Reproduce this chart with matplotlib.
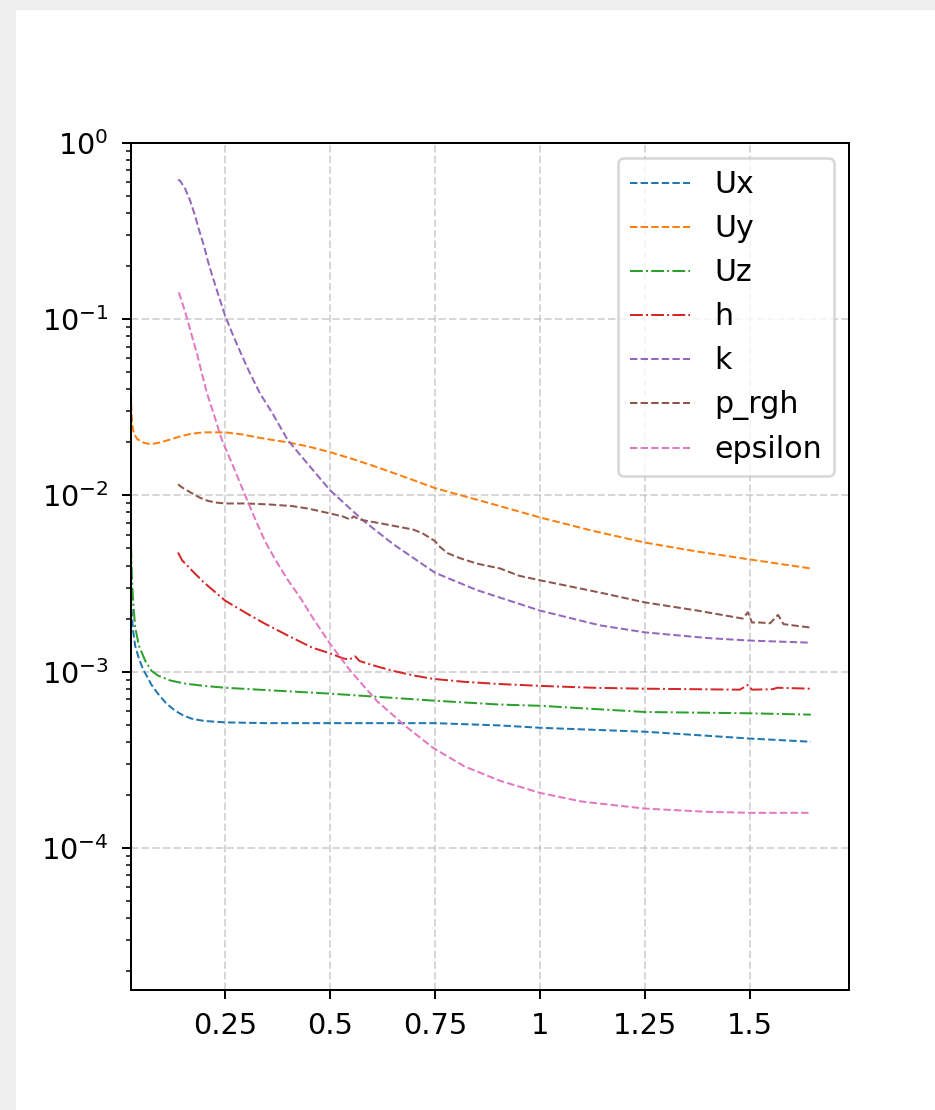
import matplotlib
matplotlib.use("Agg")
import matplotlib.pyplot as plt
from matplotlib.patches import Rectangle
from matplotlib.ticker import FixedLocator, FormatStrFormatter

# residuals (x = time, y = initial residual)
ux_t = [0.026, 0.028, 0.031, 0.036, 0.045, 0.055, 0.065, 0.075, 0.09, 0.11, 0.131, 0.15, 0.171, 0.2, 0.25, 0.35,
        0.5, 0.75, 0.905, 1.0, 1.25, 1.5, 1.645]
ux = [2.6e-3, 2.1e-3, 1.7e-3, 1.4e-3, 1.18e-3, 1.03e-3, 9.3e-4, 8.4e-4, 7.5e-4, 6.6e-4, 6.0e-4, 5.65e-4, 5.4e-4,
      5.25e-4, 5.15e-4, 5.1e-4, 5.1e-4, 5.1e-4, 4.95e-4, 4.8e-4, 4.56e-4, 4.17e-4, 4.0e-4]

uy_t = [0.026, 0.027, 0.029, 0.033, 0.04, 0.05, 0.06, 0.07, 0.083, 0.1, 0.12, 0.145, 0.171, 0.2, 0.25, 0.29, 0.329,
        0.36, 0.40, 0.45, 0.5, 0.55, 0.6, 0.675, 0.75, 0.875, 1.0, 1.125, 1.25, 1.375, 1.5, 1.645]
uy = [0.038, 0.030, 0.025, 0.0225, 0.021, 0.0202, 0.0198, 0.0196, 0.0197, 0.0201, 0.0208, 0.0217, 0.0224, 0.0228,
      0.0228, 0.0222, 0.0213, 0.0207, 0.0200, 0.0189, 0.0176, 0.0162, 0.0148, 0.0128, 0.011, 0.0091, 0.0075,
      0.0063, 0.0054, 0.0048, 0.00433, 0.00385]

uz_t = [0.026, 0.028, 0.031, 0.036, 0.045, 0.06, 0.075, 0.09, 0.12, 0.155, 0.2, 0.25, 0.35, 0.5, 0.745, 0.905, 1.0,
        1.25, 1.5, 1.645]
uz = [5.2e-3, 3.5e-3, 2.5e-3, 1.78e-3, 1.4e-3, 1.15e-3, 1.01e-3, 9.5e-4, 8.9e-4, 8.55e-4, 8.3e-4, 8.1e-4, 7.85e-4,
      7.5e-4, 6.85e-4, 6.5e-4, 6.4e-4, 5.9e-4, 5.8e-4, 5.7e-4]

h_t = [0.138, 0.143, 0.148, 0.16, 0.171, 0.2, 0.25, 0.3, 0.345, 0.4, 0.457, 0.5, 0.531, 0.545, 0.56, 0.57, 0.6,
       0.65, 0.7, 0.745, 0.82, 0.905, 1.0, 1.125, 1.248, 1.476, 1.495, 1.505, 1.555, 1.565, 1.643]
h = [4.74e-3, 4.5e-3, 4.27e-3, 4.0e-3, 3.75e-3, 3.2e-3, 2.53e-3, 2.15e-3, 1.87e-3, 1.6e-3, 1.37e-3, 1.27e-3,
     1.19e-3, 1.17e-3, 1.22e-3, 1.15e-3, 1.09e-3, 1.01e-3, 9.5e-4, 9.1e-4, 8.75e-4, 8.5e-4, 8.3e-4, 8.1e-4, 8.0e-4,
     7.9e-4, 8.4e-4, 7.9e-4, 7.95e-4, 8.1e-4, 8.0e-4]

k_t = [0.138, 0.143, 0.155, 0.167, 0.178, 0.19, 0.2, 0.21, 0.22, 0.235, 0.25, 0.27, 0.293, 0.31, 0.333, 0.36, 0.40,
       0.45, 0.5, 0.579, 0.65, 0.75, 0.85, 1.0, 1.143, 1.25, 1.4, 1.5, 1.643]
k = [0.62, 0.61, 0.55, 0.47, 0.39, 0.31, 0.26, 0.21, 0.175, 0.135, 0.105, 0.08, 0.06, 0.049, 0.038, 0.03, 0.0205,
     0.0148, 0.0107, 0.0072, 0.0053, 0.00364, 0.0029, 0.00222, 0.00183, 0.00167, 0.00155, 0.0015, 0.00146]

p_t = [0.138, 0.15, 0.171, 0.19, 0.21, 0.23, 0.25, 0.3, 0.35, 0.41, 0.45, 0.5, 0.53, 0.548, 0.556, 0.57, 0.626,
       0.698, 0.72, 0.735, 0.75, 0.762, 0.78, 0.81, 0.85, 0.905, 0.95, 1.0, 1.143, 1.25, 1.375, 1.483, 1.495, 1.505,
       1.524, 1.548, 1.567, 1.58, 1.595, 1.643]
p_rgh = [0.01155, 0.0110, 0.0103, 0.0097, 0.0093, 0.0091, 0.0090, 0.0090, 0.0089, 0.0087, 0.0084, 0.0079, 0.0076,
         0.0073, 0.0076, 0.0073, 0.0069, 0.0064, 0.0061, 0.0058, 0.0055, 0.0051, 0.0047, 0.0044, 0.0041, 0.00385,
         0.0035, 0.0033, 0.00281, 0.00247, 0.00222, 0.0020, 0.00217, 0.0019, 0.0019, 0.00188, 0.0021, 0.00186,
         0.00184, 0.00178]

eps_t = [0.14, 0.15, 0.16, 0.17, 0.183, 0.195, 0.207, 0.225, 0.243, 0.27, 0.298, 0.32, 0.345, 0.37, 0.40, 0.429,
         0.46, 0.5, 0.55, 0.612, 0.68, 0.745, 0.82, 0.905, 1.0, 1.1, 1.25, 1.4, 1.5, 1.643]
epsilon = [0.142, 0.12, 0.1, 0.082, 0.064, 0.049, 0.038, 0.028, 0.0205, 0.0145, 0.01, 0.0075, 0.0055, 0.0043,
           0.0033, 0.00263, 0.002, 0.00144, 0.001, 6.8e-4, 4.9e-4, 3.7e-4, 2.9e-4, 2.4e-4, 2.05e-4, 1.83e-4,
           1.67e-4, 1.6e-4, 1.58e-4, 1.58e-4]

x_ticks = [0.25, 0.5, 0.75, 1.0, 1.25, 1.5]

DPI = 180
plt.rcParams["font.size"] = 12

fig = plt.figure(figsize=(935 / DPI, 1110 / DPI), dpi=DPI, facecolor="#efefef")
fig.patches.append(Rectangle((16 / 935, 0), 1, 1 - 10 / 1110, transform=fig.transFigure,
                             facecolor="white", edgecolor="none", zorder=-1))
ax = fig.add_axes([131 / 935, 120 / 1110, 718 / 935, 847 / 1110])

lw = 0.8
ax.plot(ux_t, ux, "--", color="C0", lw=lw, label="Ux")
ax.plot(uy_t, uy, "--", color="C1", lw=lw, label="Uy")
ax.plot(uz_t, uz, "-.", color="C2", lw=lw, label="Uz")
ax.plot(h_t, h, "-.", color="C3", lw=lw, label="h")
ax.plot(k_t, k, "--", color="C4", lw=lw, label="k")
ax.plot(p_t, p_rgh, "--", color="C5", lw=lw, label="p_rgh")
ax.plot(eps_t, epsilon, "--", color="C6", lw=lw, label="epsilon")

ax.set_yscale("log")
ax.set_ylim(1.56e-5, 1.0)
ax.set_xlim(0.026, 1.736)
ax.xaxis.set_major_locator(FixedLocator(x_ticks))
ax.xaxis.set_major_formatter(FormatStrFormatter("%g"))
ax.tick_params(axis="both", which="major", pad=5.5, labelsize=11.5)
ax.grid(True, linestyle="--", alpha=0.5)
ax.legend(loc="upper right")

fig.savefig("out.png", dpi=DPI, facecolor=fig.get_facecolor())
